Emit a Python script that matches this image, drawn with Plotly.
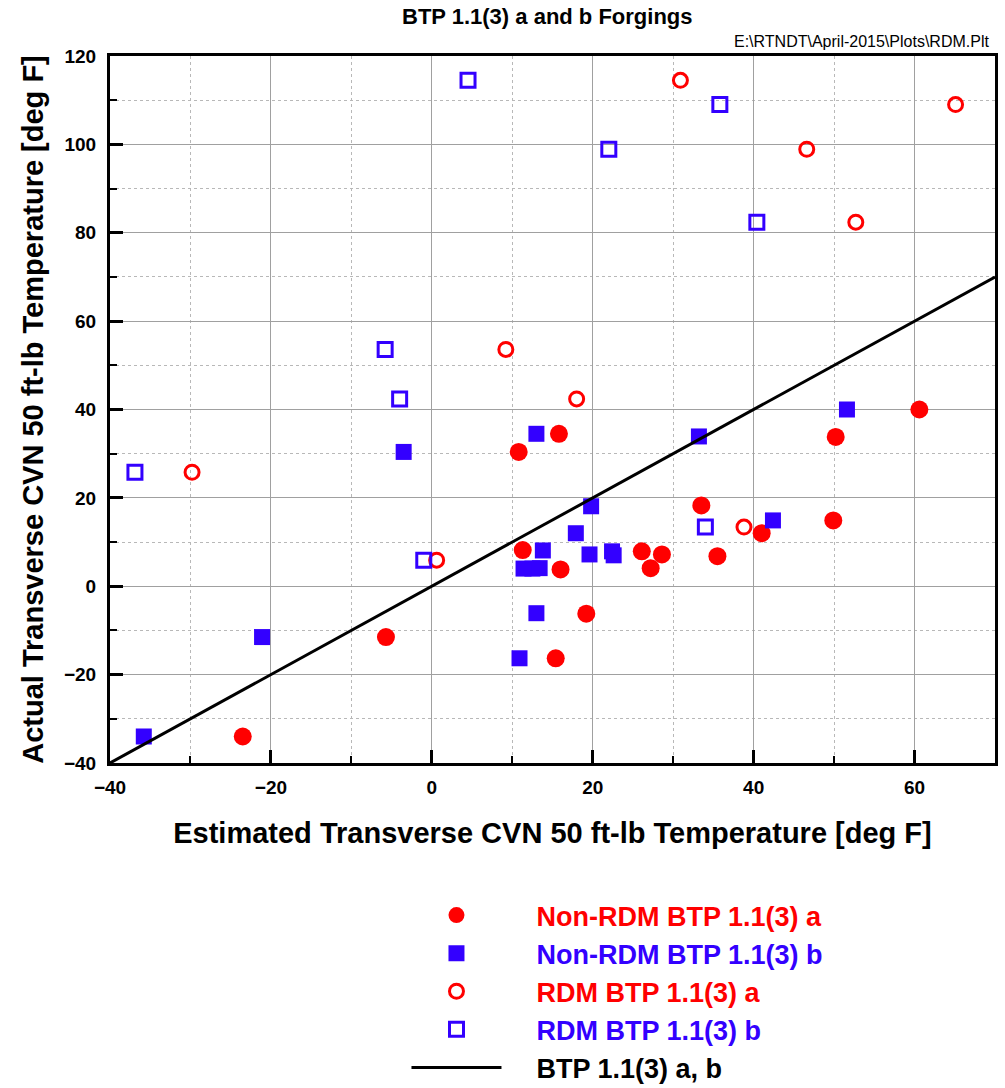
import plotly.graph_objects as go

# Non-RDM BTP 1.1(3) a (filled red circles)
nonrdm_a_x = [-23.5, -5.7, 10.8, 15.8, 11.3, 16.0, 19.2, 15.4, 26.1, 28.6, 27.2, 33.5, 35.5, 41.0, 50.2, 49.9, 60.6]
nonrdm_a_y = [-34.0, -11.5, 30.4, 34.5, 8.2, 3.8, -6.2, -16.3, 7.9, 7.2, 4.1, 18.3, 6.8, 12.0, 33.8, 14.9, 40.0]

# Non-RDM BTP 1.1(3) b (filled blue squares)
nonrdm_b_x = [-35.8, -21.1, -3.5, 10.9, 13.0, 11.4, 12.5, 13.4, 13.0, 13.8, 17.9, 19.8, 19.6, 22.4, 22.6, 33.2, 42.4, 51.6]
nonrdm_b_y = [-34.0, -11.5, 30.4, -16.3, 34.5, 4.0, 4.0, 4.1, -6.1, 8.1, 12.0, 18.1, 7.2, 7.9, 7.0, 33.9, 14.9, 40.0]

# RDM BTP 1.1(3) a (open red circles)
rdm_a_x = [-29.8, 0.6, 9.2, 18.0, 30.9, 46.6, 52.7, 65.1, 38.8]
rdm_a_y = [25.8, 5.9, 53.6, 42.4, 114.5, 98.9, 82.4, 109.0, 13.4]

# RDM BTP 1.1(3) b (open blue squares)
rdm_b_x = [-36.9, -1.0, -5.8, -4.0, 4.5, 35.8, 22.0, 40.4, 34.0]
rdm_b_y = [25.8, 5.9, 53.6, 42.4, 114.5, 109.0, 98.9, 82.4, 13.4]

# BTP 1.1(3) a, b line (estimated = actual)
line_x = [-40, 70]
line_y = [-40, 70]

x_range = [-40, 70]
y_range = [-40, 120]

RED = "#FF0000"
BLUE = "#3300FF"
FONT = "Liberation Sans"
GAP = "\u00a0" * 4


def legend_name(text, color):
    return f"{GAP}<b><span style='color:{color}'>{text}</span></b>"


fig = go.Figure()
fig.add_trace(go.Scatter(
    x=nonrdm_a_x, y=nonrdm_a_y, mode="markers",
    name=legend_name("Non-RDM BTP 1.1(3) a", RED),
    marker=dict(symbol="circle", size=18, color=RED, line=dict(width=0)),
))
fig.add_trace(go.Scatter(
    x=nonrdm_b_x, y=nonrdm_b_y, mode="markers",
    name=legend_name("Non-RDM BTP 1.1(3) b", BLUE),
    marker=dict(symbol="square", size=16, color=BLUE, line=dict(width=0)),
))
fig.add_trace(go.Scatter(
    x=rdm_a_x, y=rdm_a_y, mode="markers",
    name=legend_name("RDM BTP 1.1(3) a", RED),
    marker=dict(symbol="circle-open", size=14, color=RED, line=dict(width=3, color=RED)),
))
fig.add_trace(go.Scatter(
    x=rdm_b_x, y=rdm_b_y, mode="markers",
    name=legend_name("RDM BTP 1.1(3) b", BLUE),
    marker=dict(symbol="square-open", size=14, color=BLUE, line=dict(width=3, color=BLUE)),
))
fig.add_trace(go.Scatter(
    x=line_x, y=line_y, mode="lines",
    name=legend_name("BTP 1.1(3) a, b", "black"),
    line=dict(color="black", width=3),
))

axis_common = dict(
    showline=True, linecolor="black", linewidth=3, mirror=True,
    ticks="inside", ticklen=13, tickwidth=3, tickcolor="black",
    showgrid=True, gridcolor="#A0A0A0", gridwidth=1,
    zeroline=False,
    tickfont=dict(family=FONT, size=19, color="black", weight="bold"),
    minor=dict(dtick=10, ticks="inside", ticklen=7, tickwidth=2, tickcolor="black",
               showgrid=True, gridcolor="#B8B8B8", griddash="dot", gridwidth=1),
)

fig.update_xaxes(range=x_range, dtick=20, tick0=0, ticklabelstandoff=5, **axis_common,
                 title=dict(text="<b>Estimated Transverse CVN 50 ft-lb Temperature [deg F]</b>",
                            font=dict(family=FONT, size=29, color="black"), standoff=26))
fig.update_yaxes(range=y_range, dtick=20, tick0=0, ticklabelstandoff=7, **axis_common,
                 title=dict(text="<b>Actual Transverse CVN 50 ft-lb Temperature [deg F]</b>",
                            font=dict(family=FONT, size=29, color="black"), standoff=12))

PLOT_H = 1088 - 56 - 325

fig.update_layout(
    width=1005, height=1088,
    margin=dict(l=110, r=10, t=56, b=325, autoexpand=False),
    plot_bgcolor="white", paper_bgcolor="white",
    font=dict(family=FONT, color="black"),
    showlegend=True,
    legend=dict(
        x=0.335, y=-(891 - 763) / PLOT_H, xanchor="left", yanchor="top",
        font=dict(family=FONT, size=27, color="black"),
        itemwidth=90, itemsizing="trace", borderwidth=0, bgcolor="rgba(0,0,0,0)",
        tracegroupgap=0,
    ),
    annotations=[
        dict(text="<b>BTP 1.1(3) a and b Forgings</b>", x=0.494, y=1 + (56 - 17) / PLOT_H,
             xref="paper", yref="paper", showarrow=False, yanchor="middle",
             font=dict(family=FONT, size=22, color="black")),
        dict(text="E:\\RTNDT\\April-2015\\Plots\\RDM.Plt", x=0.995, y=1 + (56 - 42) / PLOT_H,
             xref="paper", yref="paper", xanchor="right", yanchor="middle", showarrow=False,
             font=dict(family=FONT, size=16, color="black")),
    ],
)

fig.write_html("out.html")
